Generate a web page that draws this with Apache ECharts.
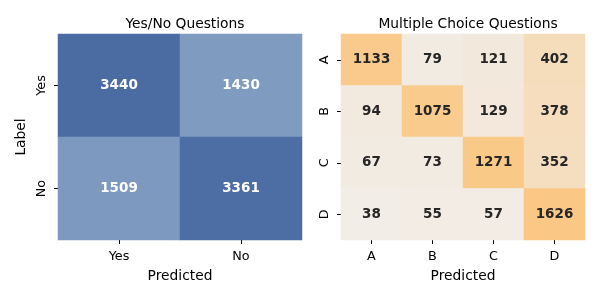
<!DOCTYPE html>
<html>
<head>
<meta charset="utf-8">
<script src="https://cdn.jsdelivr.net/npm/echarts@6/dist/echarts.min.js"></script>
<style>html,body{margin:0;padding:0;background:#fff}#c{width:600px;height:300px}</style>
</head>
<body>
<div id="c"></div>
<script>
// ---- data ----
const yesNoCategories = ['Yes', 'No'];
const yesNoValues = [ // rows = true label, cols = predicted
  [3440, 1430],
  [1509, 3361]
];
const mcCategories = ['A', 'B', 'C', 'D'];
const mcValues = [
  [1133, 79, 121, 402],
  [94, 1075, 129, 378],
  [67, 73, 1271, 352],
  [38, 55, 57, 1626]
];
const titles = ['Yes/No Questions', 'Multiple Choice Questions'];
const xName = 'Predicted';
const yName = 'Label';

// ---- build ----
function toCells(m) {
  const out = [];
  m.forEach((row, r) => row.forEach((v, c) => out.push([c, r, v])));
  return out;
}
const FONT = 'DejaVu Sans';
const TXT = '#000';
const ANN = '#262626';
const grids = [
  {left: 58, top: 34, width: 244, height: 206},
  {left: 341, top: 34, width: 244, height: 206}
];
function xAxis(i, cats) {
  return {
    type: 'category', gridIndex: i, data: cats, position: 'bottom',
    name: xName, nameLocation: 'middle', nameGap: 29,
    nameTextStyle: {fontFamily: FONT, fontSize: 13.8, color: TXT},
    axisLine: {show: false},
    axisTick: {show: true, alignWithLabel: true, length: 4, lineStyle: {color: TXT, width: 1}},
    axisLabel: {fontFamily: FONT, fontSize: 12.8, color: TXT, margin: 10},
    splitLine: {show: false}, splitArea: {show: false}
  };
}
function yAxis(i, cats, name) {
  return {
    type: 'category', gridIndex: i, data: cats, inverse: true,
    name: name, nameLocation: 'middle', nameGap: 30,
    nameTextStyle: {fontFamily: FONT, fontSize: 13.8, color: TXT},
    axisLine: {show: false},
    axisTick: {show: true, alignWithLabel: true, length: 4, lineStyle: {color: TXT, width: 1}},
    axisLabel: {fontFamily: FONT, fontSize: 12.8, color: TXT, rotate: 90, margin: 10},
    splitLine: {show: false}, splitArea: {show: false}
  };
}
const chart = echarts.init(document.getElementById('c'), null, {renderer: 'canvas'});
chart.setOption({
  animation: false,
  backgroundColor: '#fff',
  title: titles.map((t, i) => ({
    text: t, left: grids[i].left + grids[i].width / 2, top: 12, textAlign: 'center',
    textStyle: {fontFamily: FONT, fontSize: 13.8, fontWeight: 'normal', color: TXT}
  })),
  grid: grids,
  xAxis: [xAxis(0, yesNoCategories), xAxis(1, mcCategories)],
  yAxis: [yAxis(0, yesNoCategories, yName), yAxis(1, mcCategories, '')],
  visualMap: [
    {type: 'continuous', show: false, seriesIndex: 0, min: 1430, max: 3440,
     inRange: {color: ['#7f9bc0', '#4a6ca3']}},
    {type: 'continuous', show: false, seriesIndex: 1, min: 0, max: 1650,
     inRange: {color: ['#f2efeb', '#f3e6d6', '#f5dec1', '#f6d9b3', '#f7d4a7', '#f7d09b',
                       '#f8cc91', '#f9ca8a', '#f9c887', '#fac885', '#fac784']}}
  ],
  series: [
    {type: 'heatmap', xAxisIndex: 0, yAxisIndex: 0, data: toCells(yesNoValues),
     label: {show: true, fontFamily: FONT, fontWeight: 'bold', fontSize: 13.5, color: '#fff'},
     emphasis: {disabled: true}},
    {type: 'heatmap', xAxisIndex: 1, yAxisIndex: 1, data: toCells(mcValues),
     label: {show: true, fontFamily: FONT, fontWeight: 'bold', fontSize: 13.5, color: ANN},
     emphasis: {disabled: true}}
  ]
});
</script>
</body>
</html>
